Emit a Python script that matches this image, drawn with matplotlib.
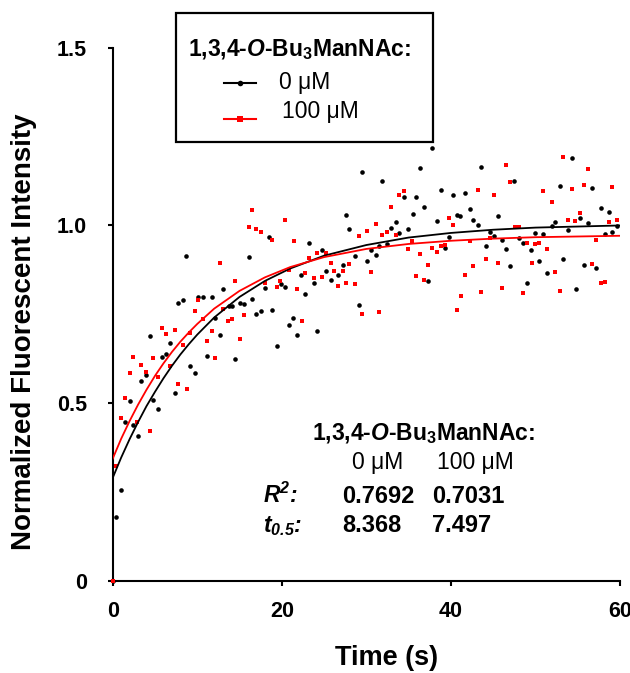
import matplotlib
matplotlib.use("Agg")
import matplotlib.pyplot as plt
from matplotlib.patches import Rectangle
from matplotlib.lines import Line2D

plt.rcParams['font.family'] = 'Liberation Sans'
plt.rcParams['mathtext.fontset'] = 'custom'
plt.rcParams['mathtext.rm'] = 'Liberation Sans'
plt.rcParams['mathtext.it'] = 'Liberation Sans:italic'
plt.rcParams['mathtext.bf'] = 'Liberation Sans:bold'
plt.rcParams['mathtext.bfit'] = 'Liberation Sans:bold:italic'

# ── Data ─────────────────────────────────────────────────────────────────────
t_0uM = [0.0, 0.44, 1.02, 1.42, 2.01, 2.41, 3.0, 3.39, 3.9, 4.38, 4.77, 5.36, 5.8,
         6.35, 6.75, 7.34, 7.73, 8.32, 8.72, 9.19, 9.74, 10.1, 10.7, 11.2, 11.7,
         12.1, 12.7, 13.1, 13.7, 14.1, 14.5, 15.1, 15.5, 16.1, 16.5, 17.0, 17.5,
         18.0, 18.5, 18.9, 19.4, 19.9, 20.4, 20.8, 21.3, 21.8, 22.3, 22.8, 23.2,
         23.8, 24.2, 24.8, 25.2, 25.8, 26.7, 27.2, 27.6, 28.0, 28.6, 29.1, 29.5,
         30.1, 30.5, 31.1, 31.5, 31.9, 32.5, 32.9, 33.5, 33.9, 34.5, 34.9, 35.5,
         35.9, 36.3, 36.8, 37.3, 37.8, 38.3, 38.8, 39.3, 39.8, 40.3, 40.7, 41.1,
         41.7, 42.2, 42.6, 43.2, 43.6, 44.1, 44.6, 45.1, 45.6, 46.0, 46.5, 47.0,
         47.5, 48.0, 48.5, 49.0, 49.5, 49.9, 50.4, 50.9, 51.4, 51.9, 52.3, 52.9,
         53.3, 53.8, 54.3, 54.8, 55.3, 55.7, 56.2, 56.7, 57.2, 57.7, 58.2, 58.7,
         59.1, 59.6]
y_0uM = [0.0, 0.18, 0.255, 0.446, 0.505, 0.439, 0.407, 0.563, 0.579, 0.69, 0.51,
         0.484, 0.631, 0.638, 0.67, 0.53, 0.783, 0.791, 0.914, 0.605, 0.585, 0.798,
         0.798, 0.634, 0.798, 0.74, 0.693, 0.822, 0.774, 0.773, 0.624, 0.783, 0.778,
         0.911, 0.794, 0.752, 0.759, 0.824, 0.968, 0.763, 0.662, 0.836, 0.826, 0.719,
         0.74, 0.691, 0.862, 0.806, 0.951, 0.837, 0.703, 0.931, 0.871, 0.848, 0.86,
         0.89, 1.03, 0.989, 0.913, 0.775, 1.151, 0.901, 0.932, 0.916, 0.943, 1.125,
         0.948, 0.992, 1.011, 0.98, 1.079, 0.989, 1.033, 1.079, 1.162, 1.053, 0.845,
         1.218, 1.012, 1.1, 0.936, 0.968, 1.085, 1.03, 1.027, 1.09, 1.046, 1.015,
         1.002, 1.164, 0.943, 0.983, 0.969, 1.028, 0.96, 0.933, 0.886, 1.126, 0.966,
         0.952, 0.839, 0.93, 0.978, 0.899, 0.976, 0.866, 0.999, 1.011, 1.111, 0.907,
         0.986, 1.19, 0.822, 1.02, 0.889, 1.006, 1.106, 0.879, 1.048, 0.977, 1.037,
         0.983, 0.999]

t_100uM = [0.0, 0.36, 0.99, 1.46, 2.01, 2.41, 2.92, 3.39, 3.9, 4.38, 4.77, 5.36,
           5.8, 6.35, 6.82, 7.34, 7.77, 8.32, 8.76, 9.15, 9.74, 10.1, 10.7, 11.2,
           11.7, 12.1, 12.7, 13.1, 13.6, 14.1, 14.5, 15.1, 15.5, 16.1, 16.5, 17.0,
           17.5, 18.0, 18.9, 19.4, 19.8, 20.4, 20.9, 21.4, 21.8, 22.4, 22.8, 23.2,
           23.8, 24.2, 24.8, 25.2, 25.8, 26.2, 26.7, 27.2, 27.6, 28.0, 28.6, 29.1,
           29.5, 30.1, 30.5, 31.1, 31.5, 31.9, 32.5, 32.9, 33.5, 33.9, 34.4, 34.9,
           35.4, 35.9, 36.3, 36.8, 37.3, 37.8, 38.3, 38.8, 39.3, 39.8, 40.3, 40.7,
           41.2, 41.7, 42.2, 42.6, 43.2, 43.6, 44.1, 44.6, 45.1, 45.6, 46.0, 46.5,
           47.0, 47.6, 48.0, 48.5, 49.0, 49.6, 49.9, 50.4, 50.9, 51.4, 51.9, 52.3,
           52.9, 53.3, 53.8, 54.3, 54.7, 55.3, 55.7, 56.2, 56.7, 57.2, 57.7, 58.2,
           58.7, 59.1, 59.6]
y_100uM = [0.0, 0.324, 0.459, 0.515, 0.585, 0.631, 0.447, 0.608, 0.589, 0.423, 0.628,
           0.575, 0.713, 0.696, 0.605, 0.706, 0.554, 0.664, 0.541, 0.698, 0.76, 0.789,
           0.737, 0.675, 0.703, 0.627, 0.894, 0.765, 0.731, 0.736, 0.843, 0.68, 0.747,
           0.996, 1.043, 0.989, 0.983, 0.838, 0.96, 0.826, 0.845, 1.014, 0.874, 0.955,
           0.822, 0.731, 0.865, 0.909, 0.852, 0.922, 0.854, 0.922, 0.894, 0.871, 0.829,
           0.873, 0.837, 0.892, 0.835, 0.971, 0.75, 0.984, 0.868, 1.005, 0.757, 0.974,
           0.981, 1.053, 0.974, 1.086, 1.097, 0.933, 0.957, 0.857, 0.92, 0.848, 0.888,
           0.938, 0.925, 0.943, 0.946, 1.02, 1.002, 0.762, 0.801, 0.86, 0.955, 0.886,
           1.1, 0.813, 0.907, 0.966, 1.087, 0.894, 0.824, 1.169, 1.122, 0.997, 0.997,
           0.809, 0.952, 0.894, 0.947, 0.95, 1.097, 0.933, 1.066, 0.868, 0.816, 1.192,
           1.015, 1.102, 1.012, 1.034, 1.113, 1.159, 0.892, 0.958, 0.837, 0.84, 1.01,
           1.107, 1.015]

# fitted curves
t_fit = [0, 1, 2, 3, 4, 5, 6, 7, 8, 9, 10, 12, 15, 18, 21, 25, 30, 35, 40, 45, 50, 55, 60]
fit_0uM = [0.290, 0.347, 0.399, 0.447, 0.492, 0.532, 0.570, 0.605, 0.637, 0.666,
           0.693, 0.741, 0.799, 0.844, 0.879, 0.915, 0.945, 0.966, 0.979, 0.988,
           0.994, 0.997, 1.000]
fit_100uM = [0.344, 0.400, 0.450, 0.496, 0.538, 0.577, 0.612, 0.644, 0.673, 0.699,
             0.723, 0.766, 0.816, 0.854, 0.883, 0.911, 0.934, 0.948, 0.957, 0.963,
             0.967, 0.969, 0.971]

x_ticks = [0, 20, 40, 60]
x_ticklabels = ['0', '20', '40', '60']
y_ticks = [0, 0.5, 1.0, 1.5]
y_ticklabels = ['0', '0.5', '1.0', '1.5']

conc_labels = ['0 \u03bcM', '100 \u03bcM']
r2_values = ['0.7692', '0.7031']
thalf_values = ['8.368', '7.497']

W, H = 630, 673


def px(x, y):
    """pixel position (from top-left) -> figure fraction"""
    return x / W, 1 - y / H


# ── Plot ─────────────────────────────────────────────────────────────────────
fig = plt.figure(figsize=(W / 100, H / 100), dpi=100)
ax = fig.add_axes([112.7 / W, 1 - 581 / H, (620 - 112.7) / W, (581 - 47.7) / H])

ax.plot(t_0uM, y_0uM, 'o', color='black', ms=3.3, mew=0, clip_on=False, zorder=3)
ax.plot(t_100uM, y_100uM, 's', color='red', ms=3.2, mew=0, clip_on=False, zorder=4)
ax.plot(t_fit, fit_0uM, '-', color='black', lw=1.3, zorder=5)
ax.plot(t_fit, fit_100uM, '-', color='red', lw=1.3, zorder=5)

ax.set_xlim(0, 60)
ax.set_ylim(0, 1.5)
ax.set_xticks(x_ticks)
ax.set_xticklabels(x_ticklabels)
ax.set_yticks(y_ticks)
ax.set_yticklabels(y_ticklabels)
for s in ['top', 'right']:
    ax.spines[s].set_visible(False)
for s in ['left', 'bottom']:
    ax.spines[s].set_linewidth(1.5)
ax.tick_params(axis='both', direction='out', length=3.5, width=1.5, labelsize=15.5)
ax.tick_params(axis='x', pad=11)
ax.tick_params(axis='y', pad=15)
for lab in ax.get_xticklabels() + ax.get_yticklabels():
    lab.set_fontweight('bold')

fig.text(*px(387, 658), 'Time (s)', fontsize=19.5, fontweight='bold',
         ha='center', va='center')
fig.text(*px(24, 332), 'Normalized Fluorescent Intensity', fontsize=20,
         fontweight='bold', rotation=90, ha='center', va='center')

# ── Legend box ───────────────────────────────────────────────────────────────
x0, y0 = px(175.7, 141.7)
x1, y1 = px(433.3, 13.3)
fig.add_artist(Rectangle((x0, y0), x1 - x0, y1 - y0, transform=fig.transFigure,
                         fill=False, edgecolor='black', lw=1.6))
title = r'1,3,4-$\mathbfit{O}$-Bu$_{\mathbf{3}}$ManNAc:'
fig.text(*px(187.7, 56.5), title, fontsize=16.5, fontweight='bold',
         ha='left', va='baseline')
for (ly, ty, tx), col, mk, lab in zip([(82.7, 89.3, 279.3), (119, 118.3, 281.7)],
                                      ['black', 'red'], ['o', 's'], conc_labels):
    lx0, lyf = px(224, ly)
    lx1, _ = px(256, ly)
    fig.add_artist(Line2D([lx0, lx1], [lyf, lyf], transform=fig.transFigure,
                          color=col, lw=1.5))
    fig.add_artist(Line2D([(lx0 + lx1) / 2], [lyf], transform=fig.transFigure,
                          color=col, marker=mk, ms=4, mew=0, lw=0))
    fig.text(*px(tx, ty), lab, fontsize=16.5, ha='left', va='baseline')

# ── Fit summary ──────────────────────────────────────────────────────────────
fig.text(*px(311.7, 440), title, fontsize=16.5, fontweight='bold',
         ha='left', va='baseline')
fig.text(*px(352, 469), conc_labels[0], fontsize=16.5, ha='left', va='baseline')
fig.text(*px(437, 469), conc_labels[1], fontsize=16.5, ha='left', va='baseline')
fig.text(*px(263.3, 503), r'$\mathbfit{R}^{\mathbfit{2}}$:', fontsize=16.5,
         fontweight='bold', fontstyle='italic', ha='left', va='baseline')
fig.text(*px(263.3, 532.5), r'$\mathbfit{t}_{\mathbfit{0.5}}$:', fontsize=16.5,
         fontweight='bold', fontstyle='italic', ha='left', va='baseline')
for xl, r2, th in zip([342, 432], r2_values, thalf_values):
    fig.text(*px(xl, 503), r2, fontsize=17, fontweight='bold', ha='left', va='baseline')
    fig.text(*px(xl, 532.5), th, fontsize=17, fontweight='bold', ha='left', va='baseline')

fig.savefig('out.png', dpi=100)
